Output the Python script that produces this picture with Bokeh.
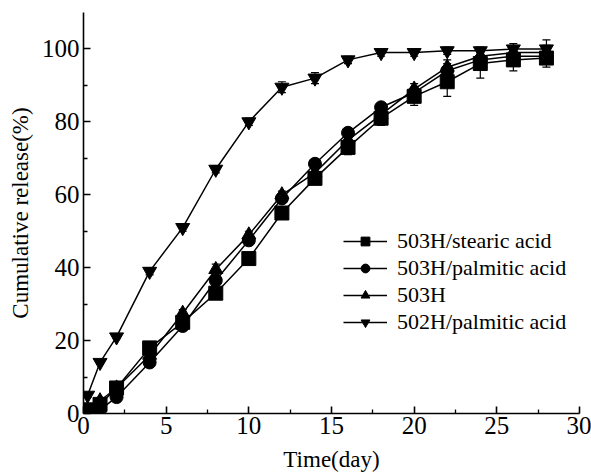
from bokeh.plotting import figure
from bokeh.models import ColumnDataSource, Whisker, Legend, LegendItem, Range1d, FixedTicker, TeeHead
from bokeh.embed import file_html
from bokeh.resources import INLINE

time = [0.25, 1, 2, 4, 6, 8, 10, 12, 14, 16, 18, 20, 22, 24, 26, 28]
stearic_503h = [1, 2.5, 7, 18, 25, 33, 42.5, 55, 64.5, 73, 81, 87, 91, 96, 97, 97.5]
palmitic_503h = [0.5, 1, 4.5, 14, 24, 36.5, 47.5, 59, 68.5, 77, 84, 88, 94, 97, 98, 98]
plain_503h = [1, 3.5, 7, 16, 27.5, 39.5, 49, 60, 66, 75, 82, 89, 95, 98, 99, 99]
palmitic_502h = [5, 14, 21, 39, 51, 67, 80, 89.5, 92, 97, 99, 99, 99.5, 99.5, 100, 100]
err_stearic = [0.5, 0.5, 1, 1.5, 1, 1, 1, 1.5, 1.5, 2, 2, 2.5, 4, 4, 3, 2.5]
err_palmitic = [0.5, 0.5, 0.5, 1, 1, 1, 1, 1, 1, 1, 1, 1.5, 2, 2, 2, 2]
err_plain = [0.5, 0.5, 1, 1, 1, 1.5, 1, 1, 1, 1, 1, 1.5, 2, 2, 2, 2]
err_502h = [0.5, 0.5, 0.5, 1, 1, 1, 1, 1.5, 1.5, 1, 1, 1, 1, 1, 1.5, 2.5]

labels = ["503H/stearic acid", "503H/palmitic acid", "503H", "502H/palmitic acid"]
markers = ["square", "circle", "triangle", "inverted_triangle"]
series = [stearic_503h, palmitic_503h, plain_503h, palmitic_502h]
errors = [err_stearic, err_palmitic, err_plain, err_502h]

FONT = "Liberation Serif"

p = figure(width=591, height=474, output_backend="svg", toolbar_location=None,
           x_range=Range1d(0, 30), y_range=Range1d(0, 110),
           min_border_left=83, min_border_right=12, min_border_top=12, min_border_bottom=61)
p.outline_line_color = None
p.grid.visible = False
p.background_fill_color = "white"

items = []
for lab, mk, ys, er in zip(labels, markers, series, errors):
    src = ColumnDataSource(dict(x=time, y=ys,
                                lo=[a - b for a, b in zip(ys, er)],
                                hi=[a + b for a, b in zip(ys, er)]))
    w = Whisker(base="x", upper="hi", lower="lo", source=src, line_color="black", line_width=1.2,
                upper_head=TeeHead(size=8, line_color="black", line_width=1.2),
                lower_head=TeeHead(size=8, line_color="black", line_width=1.2))
    p.add_layout(w)
    ln = p.line("x", "y", source=src, line_color="black", line_width=1.5)
    sz = 14 if mk != "circle" else 13
    sc = p.scatter("x", "y", source=src, marker=mk, size=sz, fill_color="black", line_color="black")
    items.append(LegendItem(label=lab, renderers=[ln, sc]))

legend = Legend(items=items, location=(260, 78), border_line_color=None,
                background_fill_alpha=0, label_text_font=FONT, label_text_font_size="22px",
                label_text_color="black",
                glyph_width=44, glyph_height=22, label_standoff=10, spacing=1, padding=4,
                label_height=22)
p.add_layout(legend)

for ax in [p.xaxis[0], p.yaxis[0]]:
    ax.axis_line_width = 1.6
    ax.axis_line_color = "black"
    ax.major_tick_in = 7
    ax.major_tick_out = 0
    ax.minor_tick_in = 4
    ax.minor_tick_out = 0
    ax.major_tick_line_width = 1.6
    ax.minor_tick_line_width = 1.3
    ax.major_tick_line_color = "black"
    ax.minor_tick_line_color = "black"
    ax.major_label_text_font = FONT
    ax.major_label_text_font_size = "25px"
    ax.major_label_text_color = "black"
    ax.axis_label_text_font = FONT
    ax.axis_label_text_font_size = "23px"
    ax.axis_label_text_font_style = "normal"
    ax.axis_label_text_color = "black"

p.xaxis[0].ticker = FixedTicker(ticks=[0, 5, 10, 15, 20, 25, 30],
                                minor_ticks=[2.5, 7.5, 12.5, 17.5, 22.5, 27.5])
p.yaxis[0].ticker = FixedTicker(ticks=[0, 20, 40, 60, 80, 100],
                                minor_ticks=[10, 30, 50, 70, 90])
p.xaxis[0].axis_label = "Time(day)"
p.yaxis[0].axis_label = "Cumulative release(%)"
p.xaxis[0].major_label_standoff = 3
p.yaxis[0].major_label_standoff = 4
p.xaxis[0].axis_label_standoff = 10
p.yaxis[0].axis_label_standoff = 6

open("out.html", "w").write(file_html(p, INLINE))
